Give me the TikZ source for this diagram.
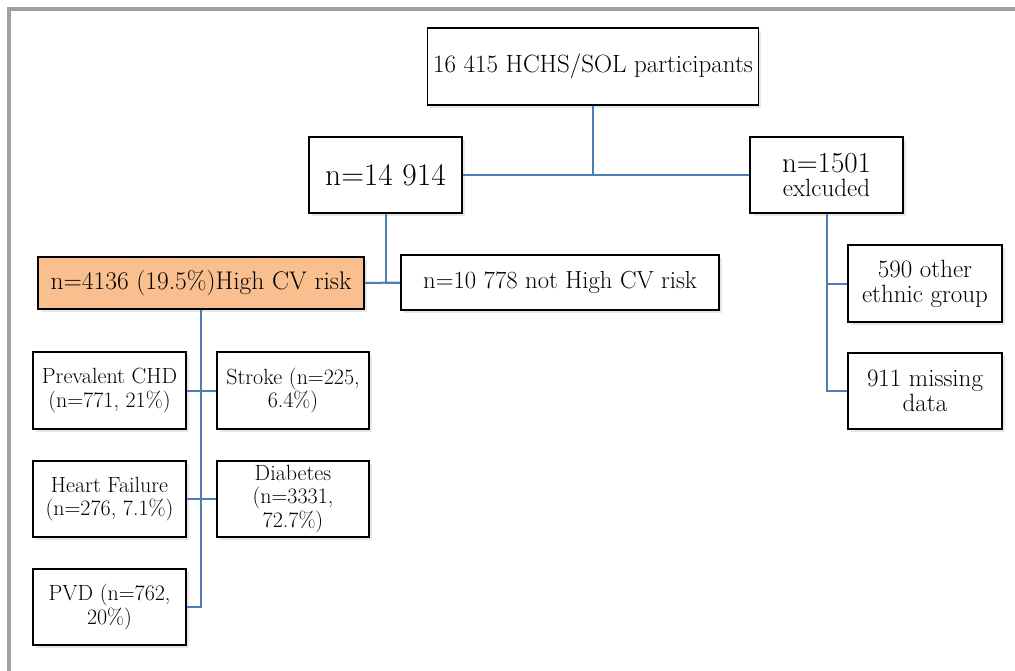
\documentclass[tikz,border=0pt]{standalone}
\usetikzlibrary{shadows}
\definecolor{connblue}{HTML}{4F7DB8}
\definecolor{boxorange}{HTML}{F9BF8F}
\definecolor{framegray}{HTML}{A0A0A0}
\newcommand{\fs}[2]{\fontsize{#1}{#2}\selectfont}
\tikzset{
  box/.style={draw=black, line width=1.8pt, fill=white, align=center, inner sep=0pt,
    drop shadow={shadow xshift=2.5pt, shadow yshift=-3pt, opacity=0.18}},
  conn/.style={draw=connblue, line width=2pt},
}
\begin{document}
\begin{tikzpicture}[x=1pt,y=-1pt]
\useasboundingbox (0,0) rectangle (1015,671);
\fill[white] (0,0) rectangle (1015,671);
\draw[framegray, line width=3.5pt] (9,671) -- (9,9) -- (1015,9);

\node[box, minimum width=331pt, minimum height=77pt, font=\fs{25}{28}] (top) at (593,66.5) {16 415 HCHS/SOL participants};
\node[box, minimum width=153pt, minimum height=76pt, font=\fs{31.5}{34}] (n14914) at (385.5,175) {n=14 914};
\node[box, minimum width=153pt, minimum height=76pt, font=\fs{29}{24.5}] (n1501) at (826.5,175) {n=1501\\{\fs{25}{24.5}exlcuded}};
\node[box, fill=boxorange, minimum width=326pt, minimum height=52pt, font=\fs{25.5}{28}] (orange) at (201,283) {n=4136 (19.5\%)High CV risk};
\node[box, minimum width=318pt, minimum height=55pt, font=\fs{24.7}{28}] (n10778) at (560,282.5) {n=10 778 not High CV risk};
\node[box, minimum width=154pt, minimum height=77pt, font=\fs{25}{25}] (eth) at (925,283.5) {590 other\\ethnic group};
\node[box, minimum width=154pt, minimum height=76pt, font=\fs{25}{25}] (miss) at (925,391) {911 missing\\data};
\node[box, minimum width=153pt, minimum height=77pt, font=\fs{22}{23.5}] (chd) at (109.5,390.5) {Prevalent CHD\\(n=771, 21\%)};
\node[box, minimum width=152pt, minimum height=77pt, font=\fs{22}{23.5}] (stroke) at (293,390.5) {Stroke (n=225,\\6.4\%)};
\node[box, minimum width=153pt, minimum height=76pt, font=\fs{22}{23.5}] (hf) at (109.5,499) {Heart Failure\\(n=276, 7.1\%)};
\node[box, minimum width=152pt, minimum height=76pt, font=\fs{22}{23.5}] (diab) at (293,499) {Diabetes\\(n=3331,\\72.7\%)};
\node[box, minimum width=153pt, minimum height=76pt, font=\fs{22}{23.5}] (pvd) at (109.5,607) {PVD (n=762,\\20\%)};

\draw[conn] (top.south) -- (top.south |- n14914.east);
\draw[conn] (n14914.east) -- (n1501.west);
\draw[conn] (n14914.south) |- (n10778.west);
\draw[conn] (orange.east) -- (n10778.west);
\draw[conn] (n1501.south) |- (eth.west);
\draw[conn] (n1501.south) |- (miss.west);
\draw[conn] (orange.south) |- (pvd.east);
\draw[conn] (chd.east) -- (stroke.west);
\draw[conn] (hf.east) -- (diab.west);
\end{tikzpicture}
\end{document}
